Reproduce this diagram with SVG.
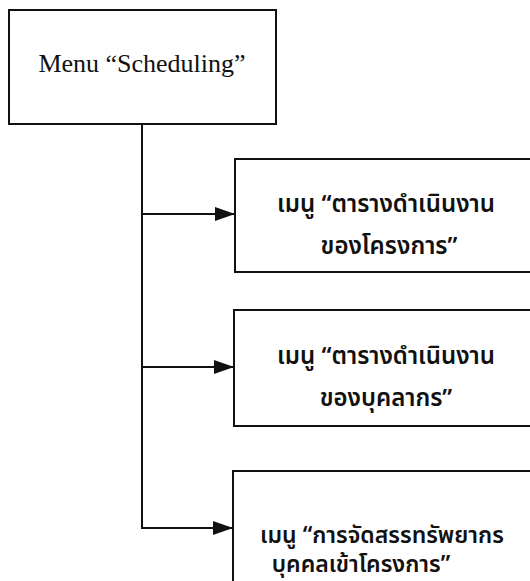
<svg xmlns="http://www.w3.org/2000/svg" width="530" height="581" viewBox="0 0 530 581">
<style>
.box{fill:#fff;stroke:#111;stroke-width:2}
.ln{fill:none;stroke:#111;stroke-width:2}
.en{font-family:"Liberation Serif",serif;font-size:26px;fill:#111;text-anchor:middle}
.th{font-family:"Noto Sans Thai","Noto Sans","DejaVu Sans",sans-serif;font-size:24px;font-weight:600;fill:#111;text-anchor:middle}
.th3{font-size:23px}
</style>
<defs>
<marker id="ah" markerWidth="20" markerHeight="14" refX="20" refY="7" orient="auto" markerUnits="userSpaceOnUse" viewBox="0 0 20 14">
<path d="M0,0 L20,7 L0,14 Z" fill="#111"/>
</marker>
</defs>
<g id="connectors">
<path class="ln" d="M142,124 V528 H220"/>
<path class="ln" d="M142,214 H235" marker-end="url(#ah)"/>
<path class="ln" d="M142,367 H234" marker-end="url(#ah)"/>
<path class="ln" d="M200,528 H233" marker-end="url(#ah)"/>
</g>
<g id="main">
<rect class="box" x="9" y="10" width="267" height="114"/>
<text class="en" x="142" y="72">Menu “Scheduling”</text>
</g>
<g id="n1">
<rect class="box" x="235" y="159" width="305" height="113"/>
<text class="th" x="386" y="212">เมนู “ตารางดำเนินงาน</text>
<text class="th" x="389" y="254">ของโครงการ”</text>
</g>
<g id="n2">
<rect class="box" x="234" y="310" width="306" height="116"/>
<text class="th" x="386" y="364">เมนู “ตารางดำเนินงาน</text>
<text class="th" x="386" y="406">ของบุคลากร”</text>
</g>
<g id="n3">
<rect class="box" x="233" y="471" width="307" height="120"/>
<text class="th th3" x="382" y="543">เมนู “การจัดสรรทรัพยากร</text>
<text class="th th3" x="361" y="572">บุคคลเข้าโครงการ”</text>
</g>
</svg>
